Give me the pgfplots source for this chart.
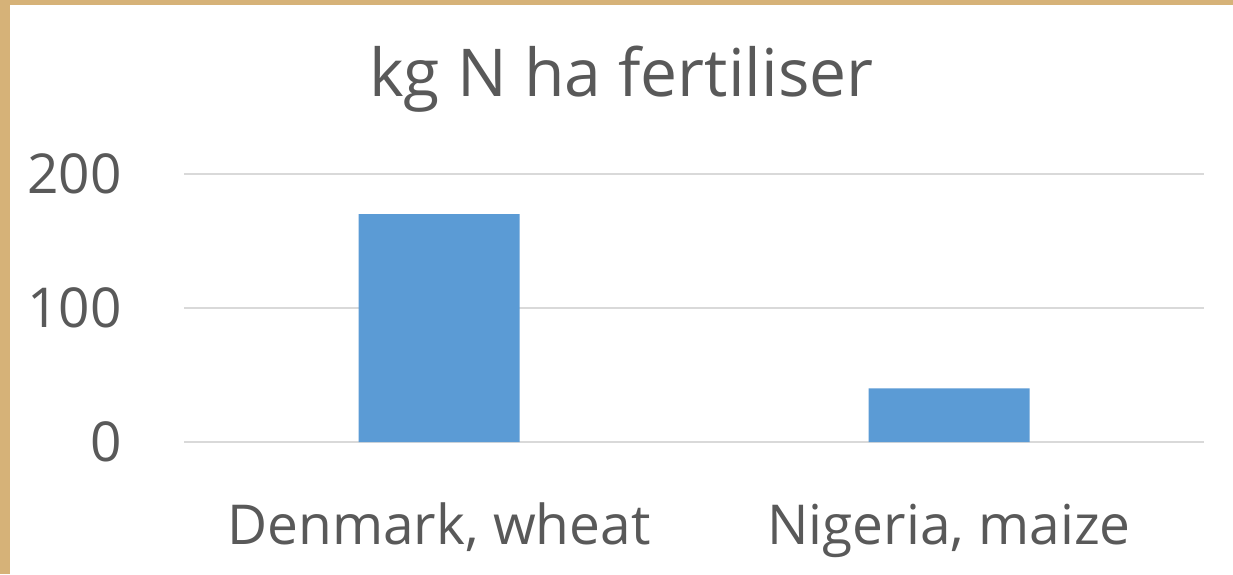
\documentclass[border=0pt]{standalone}
\usepackage{pgfplots}
\pgfplotsset{compat=1.18}
\usepackage{fontspec}
\setmainfont{Open Sans}
\definecolor{txt}{RGB}{89,89,89}
\definecolor{barblue}{RGB}{91,155,213}
\definecolor{gridc}{RGB}{217,217,217}
\definecolor{tan}{RGB}{214,178,120}
\begin{document}
\begin{tikzpicture}
\useasboundingbox (0,0) rectangle (1233pt,574pt);
\fill[tan] (0,0) rectangle (1233pt,574pt);
\fill[white] (10pt,0) rectangle (1233pt,569pt);
\node[anchor=base, text=txt, inner sep=0pt, font=\fontsize{66}{79}\selectfont] at (621.5pt,477pt) {kg N ha fertiliser};
\begin{axis}[
  at={(184pt,132pt)}, anchor=south west,
  scale only axis, width=1020pt, height=268pt,
  xmin=-0.5, xmax=1.5, ymin=0, ymax=200,
  xtick={0,1}, xticklabels={{Denmark, wheat},{Nigeria, maize}},
  ytick={0,100,200},
  axis line style={draw=none}, tick style={draw=none},
  ymajorgrids, major grid style={gridc, line width=1.2pt},
  ticklabel style={text=txt, font=\fontsize{55}{66}\selectfont, inner sep=0pt},
  /pgf/number format/assume math mode=true,
  yticklabel style={anchor=east, xshift=-62pt},
  xticklabel style={anchor=base, yshift=-102pt},
  clip=false,
]
\addplot[ybar, bar width=161pt, fill=barblue, draw=none] coordinates {(0,170) (1,40)};
\end{axis}
\end{tikzpicture}
\end{document}
